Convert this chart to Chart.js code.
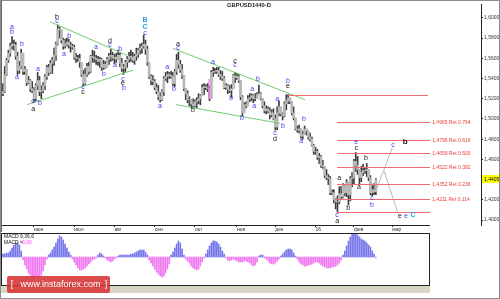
<!DOCTYPE html>
<html>
<head>
<meta charset="utf-8">
<script src="https://cdn.jsdelivr.net/npm/chart.js@4.4.1/dist/chart.umd.min.js"></script>
<style>
  html, body { margin: 0; padding: 0; background: #fff; }
  #frame { position: relative; width: 500px; height: 299px; overflow: hidden; background: #fff; }
  #frame::after { content: ''; position: absolute; left: 0; top: 0; right: 0; bottom: 0; border: 1px solid #8c8c8c; pointer-events: none; }
  #priceChart { position: absolute; left: 0; top: 0; }
  #macdChart { position: absolute; left: 0; top: 232px; }
</style>
</head>
<body>
<div id="frame">
  <canvas id="priceChart" width="500" height="232"></canvas>
  <canvas id="macdChart" width="432" height="67"></canvas>
</div>
<script>
// GBPUSD daily bars (7 May 2015 .. 19 Feb 2016)
const firstOpen = 1.5250;
const highs = [
  1.5350, 1.5520, 1.5600, 1.5680, 1.5750, 1.5815, 1.5780, 1.5760, 1.5660, 1.5570,
  1.5690, 1.5650, 1.5520, 1.5490, 1.5420, 1.5390, 1.5370, 1.5310, 1.5350, 1.5460,
  1.5420, 1.5330, 1.5360, 1.5440, 1.5530, 1.5540, 1.5580, 1.5610, 1.5700, 1.5760,
  1.5930, 1.5910, 1.5880, 1.5800, 1.5790, 1.5800, 1.5790, 1.5760, 1.5740, 1.5730,
  1.5650, 1.5630, 1.5640, 1.5560, 1.5480, 1.5500, 1.5550, 1.5560, 1.5630, 1.5680,
  1.5670, 1.5630, 1.5620, 1.5610, 1.5600, 1.5580, 1.5570, 1.5610, 1.5650, 1.5690,
  1.5660, 1.5640, 1.5650, 1.5680, 1.5650, 1.5600, 1.5540, 1.5580, 1.5620, 1.5660,
  1.5680, 1.5660, 1.5640, 1.5700, 1.5700, 1.5740, 1.5750, 1.5830, 1.5780, 1.5720,
  1.5540, 1.5440, 1.5430, 1.5390, 1.5350, 1.5330, 1.5260, 1.5290, 1.5420, 1.5460,
  1.5470, 1.5460, 1.5470, 1.5460, 1.5490, 1.5640, 1.5660, 1.5580, 1.5540, 1.5430,
  1.5300, 1.5280, 1.5220, 1.5190, 1.5200, 1.5190, 1.5210, 1.5250, 1.5240, 1.5340,
  1.5350, 1.5340, 1.5350, 1.5320, 1.5480, 1.5510, 1.5500, 1.5510, 1.5510, 1.5480,
  1.5470, 1.5420, 1.5350, 1.5340, 1.5330, 1.5340, 1.5440, 1.5460, 1.5450, 1.5440,
  1.5380, 1.5230, 1.5160, 1.5170, 1.5230, 1.5250, 1.5250, 1.5240, 1.5250, 1.5260,
  1.5335, 1.5260, 1.5200, 1.5170, 1.5130, 1.5120, 1.5110, 1.5090, 1.5100, 1.5040,
  1.5120, 1.5180, 1.5100, 1.5060, 1.5170, 1.5240, 1.5240, 1.5200, 1.5170, 1.5120,
  1.5000, 1.4930, 1.4940, 1.4900, 1.4880, 1.4930, 1.4900, 1.4880, 1.4860, 1.4820,
  1.4750, 1.4720, 1.4700, 1.4660, 1.4640, 1.4590, 1.4530, 1.4500, 1.4450, 1.4430,
  1.4300, 1.4300, 1.4210, 1.4240, 1.4330, 1.4330, 1.4360, 1.4350, 1.4400, 1.4370,
  1.4430, 1.4470, 1.4600, 1.4668, 1.4630, 1.4500, 1.4530, 1.4550, 1.4520, 1.4560,
  1.4480, 1.4440, 1.4340, 1.4360, 1.4410
];
const lows = [
  1.5230, 1.5260, 1.5430, 1.5560, 1.5620, 1.5690, 1.5680, 1.5590, 1.5440, 1.5450,
  1.5500, 1.5440, 1.5440, 1.5330, 1.5350, 1.5270, 1.5260, 1.5170, 1.5180, 1.5290,
  1.5230, 1.5200, 1.5260, 1.5290, 1.5390, 1.5430, 1.5450, 1.5450, 1.5530, 1.5580,
  1.5730, 1.5800, 1.5750, 1.5690, 1.5700, 1.5720, 1.5700, 1.5660, 1.5690, 1.5590,
  1.5560, 1.5570, 1.5510, 1.5420, 1.5330, 1.5340, 1.5420, 1.5440, 1.5460, 1.5560,
  1.5560, 1.5540, 1.5530, 1.5510, 1.5480, 1.5490, 1.5500, 1.5520, 1.5540, 1.5570,
  1.5580, 1.5550, 1.5560, 1.5590, 1.5520, 1.5470, 1.5440, 1.5470, 1.5510, 1.5560,
  1.5570, 1.5560, 1.5540, 1.5580, 1.5610, 1.5640, 1.5650, 1.5700, 1.5640, 1.5530,
  1.5400, 1.5340, 1.5340, 1.5290, 1.5250, 1.5190, 1.5165, 1.5180, 1.5230, 1.5380,
  1.5360, 1.5400, 1.5400, 1.5330, 1.5320, 1.5440, 1.5500, 1.5460, 1.5400, 1.5280,
  1.5190, 1.5160, 1.5130, 1.5110, 1.5110, 1.5120, 1.5108, 1.5150, 1.5140, 1.5230,
  1.5240, 1.5290, 1.5270, 1.5180, 1.5210, 1.5420, 1.5450, 1.5450, 1.5420, 1.5390,
  1.5380, 1.5300, 1.5290, 1.5250, 1.5260, 1.5210, 1.5300, 1.5360, 1.5390, 1.5360,
  1.5190, 1.5030, 1.5070, 1.5110, 1.5130, 1.5170, 1.5180, 1.5160, 1.5180, 1.5200,
  1.5240, 1.5190, 1.5110, 1.5060, 1.5050, 1.5060, 1.5000, 1.5020, 1.4990, 1.4890,
  1.4895, 1.5030, 1.5030, 1.4990, 1.5020, 1.5090, 1.5150, 1.5150, 1.5040, 1.4990,
  1.4890, 1.4870, 1.4860, 1.4810, 1.4800, 1.4850, 1.4840, 1.4800, 1.4780, 1.4730,
  1.4650, 1.4650, 1.4600, 1.4560, 1.4520, 1.4510, 1.4420, 1.4400, 1.4350, 1.4250,
  1.4250, 1.4170, 1.4110, 1.4079, 1.4160, 1.4210, 1.4220, 1.4240, 1.4230, 1.4150,
  1.4190, 1.4330, 1.4350, 1.4480, 1.4450, 1.4350, 1.4380, 1.4440, 1.4460, 1.4430,
  1.4390, 1.4250, 1.4240, 1.4250, 1.4250
];
const closes = [
  1.5270, 1.5440, 1.5580, 1.5650, 1.5720, 1.5740, 1.5730, 1.5620, 1.5480, 1.5520,
  1.5650, 1.5470, 1.5490, 1.5360, 1.5380, 1.5300, 1.5280, 1.5200, 1.5330, 1.5380,
  1.5270, 1.5280, 1.5330, 1.5420, 1.5510, 1.5460, 1.5550, 1.5580, 1.5630, 1.5740,
  1.5890, 1.5880, 1.5780, 1.5720, 1.5740, 1.5760, 1.5730, 1.5720, 1.5710, 1.5610,
  1.5600, 1.5600, 1.5560, 1.5440, 1.5350, 1.5440, 1.5520, 1.5470, 1.5620, 1.5610,
  1.5600, 1.5590, 1.5570, 1.5590, 1.5510, 1.5540, 1.5510, 1.5590, 1.5620, 1.5630,
  1.5600, 1.5610, 1.5590, 1.5630, 1.5550, 1.5500, 1.5510, 1.5560, 1.5590, 1.5620,
  1.5610, 1.5580, 1.5620, 1.5640, 1.5680, 1.5700, 1.5720, 1.5740, 1.5690, 1.5560,
  1.5420, 1.5380, 1.5370, 1.5310, 1.5270, 1.5220, 1.5190, 1.5270, 1.5400, 1.5420,
  1.5440, 1.5430, 1.5420, 1.5350, 1.5470, 1.5580, 1.5540, 1.5490, 1.5430, 1.5300,
  1.5250, 1.5190, 1.5190, 1.5150, 1.5130, 1.5170, 1.5180, 1.5200, 1.5230, 1.5310,
  1.5320, 1.5310, 1.5300, 1.5200, 1.5460, 1.5470, 1.5470, 1.5480, 1.5440, 1.5420,
  1.5400, 1.5310, 1.5330, 1.5290, 1.5280, 1.5300, 1.5430, 1.5410, 1.5420, 1.5380,
  1.5220, 1.5060, 1.5140, 1.5130, 1.5200, 1.5210, 1.5230, 1.5200, 1.5200, 1.5240,
  1.5250, 1.5200, 1.5130, 1.5080, 1.5100, 1.5080, 1.5040, 1.5060, 1.5000, 1.4920,
  1.5060, 1.5120, 1.5050, 1.5030, 1.5150, 1.5180, 1.5210, 1.5170, 1.5060, 1.5010,
  1.4900, 1.4890, 1.4900, 1.4830, 1.4850, 1.4900, 1.4880, 1.4820, 1.4800, 1.4740,
  1.4680, 1.4680, 1.4620, 1.4630, 1.4540, 1.4530, 1.4440, 1.4420, 1.4410, 1.4270,
  1.4270, 1.4200, 1.4180, 1.4180, 1.4260, 1.4230, 1.4340, 1.4270, 1.4370, 1.4250,
  1.4410, 1.4420, 1.4580, 1.4540, 1.4500, 1.4420, 1.4470, 1.4490, 1.4490, 1.4500,
  1.4420, 1.4270, 1.4300, 1.4280, 1.4400
];
// MACD(9,36,6) histogram, one value per bar
const macdHist = [
  0.0015, 0.0015, 0.0020, 0.0020, 0.0030, 0.0045, 0.0060, 0.0070, 0.0070, 0.0060,
  0.0030, -0.0015, -0.0040, -0.0060, -0.0080, -0.0090, -0.0100, -0.0105, -0.0100, -0.0100,
  -0.0095, -0.0090, -0.0070, -0.0040, -0.0010, 0.0010, 0.0020, 0.0035, 0.0050, 0.0070,
  0.0090, 0.0105, 0.0100, 0.0085, 0.0065, 0.0045, 0.0025, 0.0010, -0.0010, -0.0025,
  -0.0040, -0.0055, -0.0065, -0.0065, -0.0060, -0.0055, -0.0045, -0.0035, -0.0025, -0.0015,
  -0.0010, -0.0005, 0.0010, 0.0020, 0.0015, 0.0005, -0.0005, -0.0015, -0.0020, -0.0025,
  -0.0020, -0.0010, -0.0005, 0.0005, 0.0010, 0.0010, 0.0010, 0.0010, 0.0010, 0.0010,
  0.0015, 0.0015, 0.0020, 0.0025, 0.0030, 0.0035, 0.0035, 0.0035, 0.0025, 0.0010,
  -0.0015, -0.0030, -0.0045, -0.0060, -0.0075, -0.0085, -0.0095, -0.0100, -0.0095, -0.0080,
  -0.0060, -0.0035, 0.0010, 0.0025, 0.0045, 0.0065, 0.0080, 0.0070, 0.0040, 0.0010,
  -0.0010, -0.0020, -0.0030, -0.0045, -0.0055, -0.0060, -0.0065, -0.0060, -0.0045, -0.0025,
  -0.0005, 0.0015, 0.0035, 0.0055, 0.0070, 0.0080, 0.0080, 0.0075, 0.0065, 0.0050,
  0.0030, 0.0015, -0.0005, -0.0015, -0.0020, -0.0015, -0.0010, -0.0015, -0.0020, -0.0025,
  -0.0025, -0.0025, -0.0020, -0.0020, -0.0025, -0.0030, -0.0040, -0.0045, -0.0040, -0.0025,
  0.0005, 0.0010, 0.0010, -0.0005, -0.0010, -0.0020, -0.0030, -0.0035, -0.0035, -0.0030,
  -0.0020, -0.0010, 0.0005, 0.0015, 0.0025, 0.0035, 0.0040, 0.0040, 0.0035, 0.0020,
  0.0005, -0.0010, -0.0025, -0.0035, -0.0040, -0.0045, -0.0045, -0.0040, -0.0040, -0.0035,
  -0.0030, -0.0025, -0.0025, -0.0030, -0.0040, -0.0045, -0.0050, -0.0055, -0.0055, -0.0055,
  -0.0050, -0.0050, -0.0045, -0.0040, -0.0030, -0.0015, 0.0010, 0.0030, 0.0055, 0.0080,
  0.0100, 0.0115, 0.0120, 0.0120, 0.0110, 0.0100, 0.0090, 0.0085, 0.0080, 0.0070,
  0.0060, 0.0050, 0.0030, 0.0015, -0.0005
];

// time axis labels (bar index where each label sits)
const tickIndex = [17, 39, 61, 83, 105, 128, 149, 171, 192, 213];
const tickText = ['июн', 'июл', 'авг', 'сен', 'окт', 'ноя', 'дек', '16', 'фев', 'мар'];

// Fibonacci retracement of the drop 1.5240 -> 1.4079
const fibHigh = 1.5240;
const fibLow = 1.4079;
const fibRatios = [0.764, 0.618, 0.500, 0.382, 0.236, 0.114];
const fibPrices = [1.4965, 1.4796, 1.4659, 1.4522, 1.4352, 1.4211];
const lastPrice = 1.4405;

// trend lines: [bar1, price1, bar2, price2]
const trendLines = [
  [25.8, 1.5961, 67.9, 1.5629],
  [13.2, 1.5141, 71.2, 1.5483],
  [93.0, 1.5698, 165.3, 1.5190],
  [94.7, 1.5141, 151.6, 1.4956]
];
// forecast path drawn in grey
const forecastLines = [
  [204.1, 1.4293, 212.9, 1.4712],
  [208.5, 1.4488, 216.0, 1.4068]
];

// wave marks: [bar, price, text, colour kind]
const waveLabels = [
  [5.0, 1.5912, 'a', 'b'], [5.0, 1.5863, 'b', 'b'], [10.4, 1.5737, 'b', 'b'], [7.7, 1.5415, 'a', 'b'],
  [16.5, 1.5180, 'c', 'b'], [16.5, 1.5102, 'a', 'k'], [20.3, 1.5161, 'b', 'b'], [19.2, 1.5493, 'a', 'b'],
  [29.6, 1.6010, 'b', 'k'], [29.6, 1.5971, 'c', 'b'], [36.2, 1.5824, 'b', 'b'], [33.4, 1.5639, 'a', 'b'],
  [43.8, 1.5317, 'c', 'b'], [43.8, 1.5268, 'c', 'k'], [50.9, 1.5707, 'a', 'b'], [55.3, 1.5444, 'b', 'b'],
  [58.6, 1.5766, 'd', 'k'], [58.6, 1.5727, 'c', 'b'], [64.1, 1.5688, 'b', 'b'], [61.3, 1.5532, 'a', 'b'],
  [65.7, 1.5395, 'c', 'b'], [65.7, 1.5356, 'e', 'k'], [66.2, 1.5307, 'b', 'b'],
  [77.7, 1.5980, 'B', 'c'], [77.7, 1.5912, 'C', 'c'], [77.7, 1.5854, 'c', 'b'],
  [89.8, 1.5512, 'a', 'b'], [85.9, 1.5132, 'a', 'b'], [95.8, 1.5737, 'a', 'k'], [95.8, 1.5698, 'c', 'b'],
  [93.6, 1.5298, 'b', 'b'], [104.0, 1.5083, 'b', 'k'], [114.9, 1.5561, 'a', 'b'],
  [127.0, 1.5571, 'c', 'k'], [127.0, 1.5532, 'c', 'b'], [124.8, 1.5210, 'b', 'b'],
  [136.3, 1.5298, 'a', 'b'], [139.5, 1.5395, 'b', 'b'], [130.8, 1.5005, 'b', 'b'], [137.4, 1.5132, 'a', 'b'],
  [150.0, 1.5200, 'a', 'b'], [148.8, 1.4859, 'c', 'b'], [148.8, 1.4800, 'd', 'k'], [153.2, 1.4927, 'b', 'b'],
  [155.9, 1.5376, 'b', 'b'], [155.9, 1.5327, 'e', 'k'], [163.1, 1.4780, 'a', 'b'], [164.7, 1.4995, 'b', 'b'],
  [182.8, 1.4049, 'c', 'b'], [182.8, 1.3990, 'a', 'k'], [183.9, 1.4420, 'a', 'k'], [188.8, 1.4117, 'b', 'k'],
  [193.2, 1.4771, 'e', 'b'], [193.2, 1.4712, 'c', 'k'], [194.8, 1.4322, 'a', 'k'], [198.6, 1.4615, 'b', 'k'],
  [201.9, 1.4215, 'c', 'b'], [201.9, 1.4146, 'b', 'b'], [213.4, 1.4741, 'c', 'b'],
  [217.2, 1.4039, 'e', 'k'], [220.5, 1.4039, 'e', 'b'], [224.3, 1.4049, 'C', 'c']
];

const N_SLOTS = 262;
const MACD_SLOTS = 233;
const FONT = 'Liberation Sans';
const waveColor = { b: '#3c3cec', k: '#111111', c: '#1ea0e6' };

const opens = closes.map((c, i) => i === 0 ? firstOpen : closes[i - 1]);
const wicks = highs.map((h, i) => [lows[i], h]);
const bodies = opens.map((o, i) => [Math.min(o, closes[i]), Math.max(o, closes[i])]);
const tickMap = new Map(tickIndex.map((t, i) => [t, tickText[i]]));
const fmt = v => v.toFixed(4).replace('.', ',');

function seg(ctx, x1, y1, x2, y2) {
  ctx.beginPath();
  ctx.moveTo(x1, y1);
  ctx.lineTo(x2, y2);
  ctx.stroke();
}

const priceOverlay = {
  id: 'priceOverlay',
  afterDatasetsDraw(chart) {
    const {ctx, scales: {x, y}} = chart;
    const px = i => x.getPixelForValue(i);
    const py = p => y.getPixelForValue(p);
    ctx.save();
    ctx.lineWidth = 1;

    ctx.strokeStyle = '#72c872';
    for (const [i1, p1, i2, p2] of trendLines) seg(ctx, px(i1), py(p1), px(i2), py(p2));

    ctx.strokeStyle = '#b8b8b8';
    for (const [i1, p1, i2, p2] of forecastLines) seg(ctx, px(i1), py(p1), px(i2), py(p2));

    // magenta marker bar
    ctx.strokeStyle = '#ff4cff';
    seg(ctx, px(112.7), py(1.5200), px(112.7), py(1.5395));

    ctx.strokeStyle = '#f26a6a';
    seg(ctx, px(156), Math.round(py(fibHigh)) + 0.5, px(232.5), Math.round(py(fibHigh)) + 0.5);
    seg(ctx, px(182.8), Math.round(py(fibLow)) + 0.5, px(233.6), Math.round(py(fibLow)) + 0.5);
    ctx.font = '5px ' + FONT;
    ctx.fillStyle = '#e8403a';
    ctx.textBaseline = 'middle';
    ctx.textAlign = 'left';
    fibPrices.forEach((p, k) => {
      const yy = Math.round(py(p)) + 0.5;
      seg(ctx, px(182.8), yy, px(233.6), yy);
      ctx.fillText(fmt(p) + ' Ret ' + fibRatios[k].toFixed(3), px(234.8), yy);
    });

    ctx.textAlign = 'center';
    for (const [i, p, t, kind] of waveLabels) {
      ctx.fillStyle = waveColor[kind];
      ctx.font = (kind === 'c' ? 'bold 7px ' : '7px ') + FONT;
      ctx.fillText(t, px(i), py(p));
    }
    ctx.font = 'bold 8px ' + FONT;
    ctx.fillStyle = '#111';
    ctx.fillText('b', px(220.0), py(1.4771));
    ctx.restore();
  },
  afterDraw(chart) {
    const {ctx, chartArea: area, scales: {y}} = chart;
    ctx.save();
    ctx.strokeStyle = '#222';
    ctx.lineWidth = 1;
    seg(ctx, 0, area.bottom + 0.5, 430, area.bottom + 0.5);
    ctx.strokeStyle = '#666';
    seg(ctx, 1.5, 0, 1.5, 232);

    // current price tag
    const yy = Math.round(y.getPixelForValue(lastPrice));
    ctx.fillStyle = '#ffff00';
    ctx.fillRect(area.right + 1, yy - 4, 17, 8);
    ctx.fillStyle = '#000';
    ctx.font = '5px ' + FONT;
    ctx.textBaseline = 'middle';
    ctx.fillText(fmt(lastPrice), area.right + 3, yy + 0.5);

    ctx.font = 'bold 5.8px ' + FONT;
    ctx.fillStyle = '#222';
    ctx.textAlign = 'center';
    ctx.fillText('GBPUSD1440-D', 249, 5.5);
    ctx.restore();
  }
};

new Chart(document.getElementById('priceChart'), {
  type: 'bar',
  data: {
    labels: Array.from({length: N_SLOTS}, (_, i) => i),
    datasets: [
      {data: bodies, backgroundColor: '#b8b8b8', barThickness: 2, grouped: false},
      {data: wicks, backgroundColor: '#3c3c3c', barThickness: 1, grouped: false}
    ]
  },
  options: {
    responsive: false,
    devicePixelRatio: 1,
    animation: false,
    events: [],
    layout: {padding: {left: 2, top: 1, right: 1, bottom: 0}},
    plugins: {legend: {display: false}, tooltip: {enabled: false}},
    scales: {
      x: {
        offset: true,
        border: {display: false},
        grid: {drawOnChartArea: false, offset: false, tickLength: 2, color: '#222'},
        ticks: {
          autoSkip: false, maxRotation: 0, minRotation: 0, align: 'start', padding: 0,
          color: '#333', font: {family: FONT, size: 5},
          callback: v => tickMap.has(v) ? tickMap.get(v) : null
        },
        afterFit: s => { s.height = 7; }
      },
      y: {
        position: 'right',
        min: 1.3951,
        max: 1.6137,
        border: {color: '#222'},
        grid: {drawOnChartArea: false, tickLength: 2, color: '#222'},
        ticks: {
          stepSize: 0.02, includeBounds: false, padding: 1,
          color: '#333', font: {family: FONT, size: 5},
          callback: v => fmt(v)
        },
        afterFit: s => { s.width = 18; }
      }
    }
  },
  plugins: [priceOverlay]
});

const macdOverlay = {
  id: 'macdOverlay',
  afterDraw(chart) {
    const {ctx} = chart;
    ctx.save();
    ctx.strokeStyle = '#222';
    ctx.lineWidth = 1;
    ctx.strokeRect(1.5, 1.5, 428, 52);
    ctx.fillStyle = '#d8d5c4';
    ctx.fillRect(0, 54, 430, 7);

    ctx.font = '5px ' + FONT;
    ctx.textBaseline = 'middle';
    ctx.fillStyle = '#111';
    ctx.fillText('MACD 9,36,6', 4, 4.5);
    ctx.fillText('MACD =', 4, 10.5);
    ctx.fillStyle = '#ff33ff';
    ctx.fillText('0,00', 22, 10.5);

    // watermark
    ctx.fillStyle = 'rgba(214, 52, 52, 0.88)';
    ctx.beginPath();
    ctx.roundRect(7, 44, 103, 17, 2);
    ctx.fill();
    ctx.fillStyle = '#fff';
    ctx.font = '9px ' + FONT;
    ctx.textAlign = 'center';
    ctx.fillText('[', 12, 53);
    ctx.fillText('www.instaforex.com', 60.5, 53);
    ctx.fillText(']', 106, 53);
    ctx.restore();
  }
};

new Chart(document.getElementById('macdChart'), {
  type: 'bar',
  data: {
    labels: Array.from({length: MACD_SLOTS}, (_, i) => i),
    datasets: [{
      data: macdHist,
      barThickness: 1,
      backgroundColor: c => (c.raw ?? 0) >= 0 ? '#7676ec' : '#f07af0'
    }]
  },
  options: {
    responsive: false,
    devicePixelRatio: 1,
    animation: false,
    events: [],
    layout: {padding: {left: 2, top: 1, right: 4, bottom: 14}},
    plugins: {legend: {display: false}, tooltip: {enabled: false}},
    scales: {
      x: {display: false, offset: true},
      y: {display: false, min: -0.014, max: 0.012}
    }
  },
  plugins: [macdOverlay]
});
</script>
</body>
</html>
